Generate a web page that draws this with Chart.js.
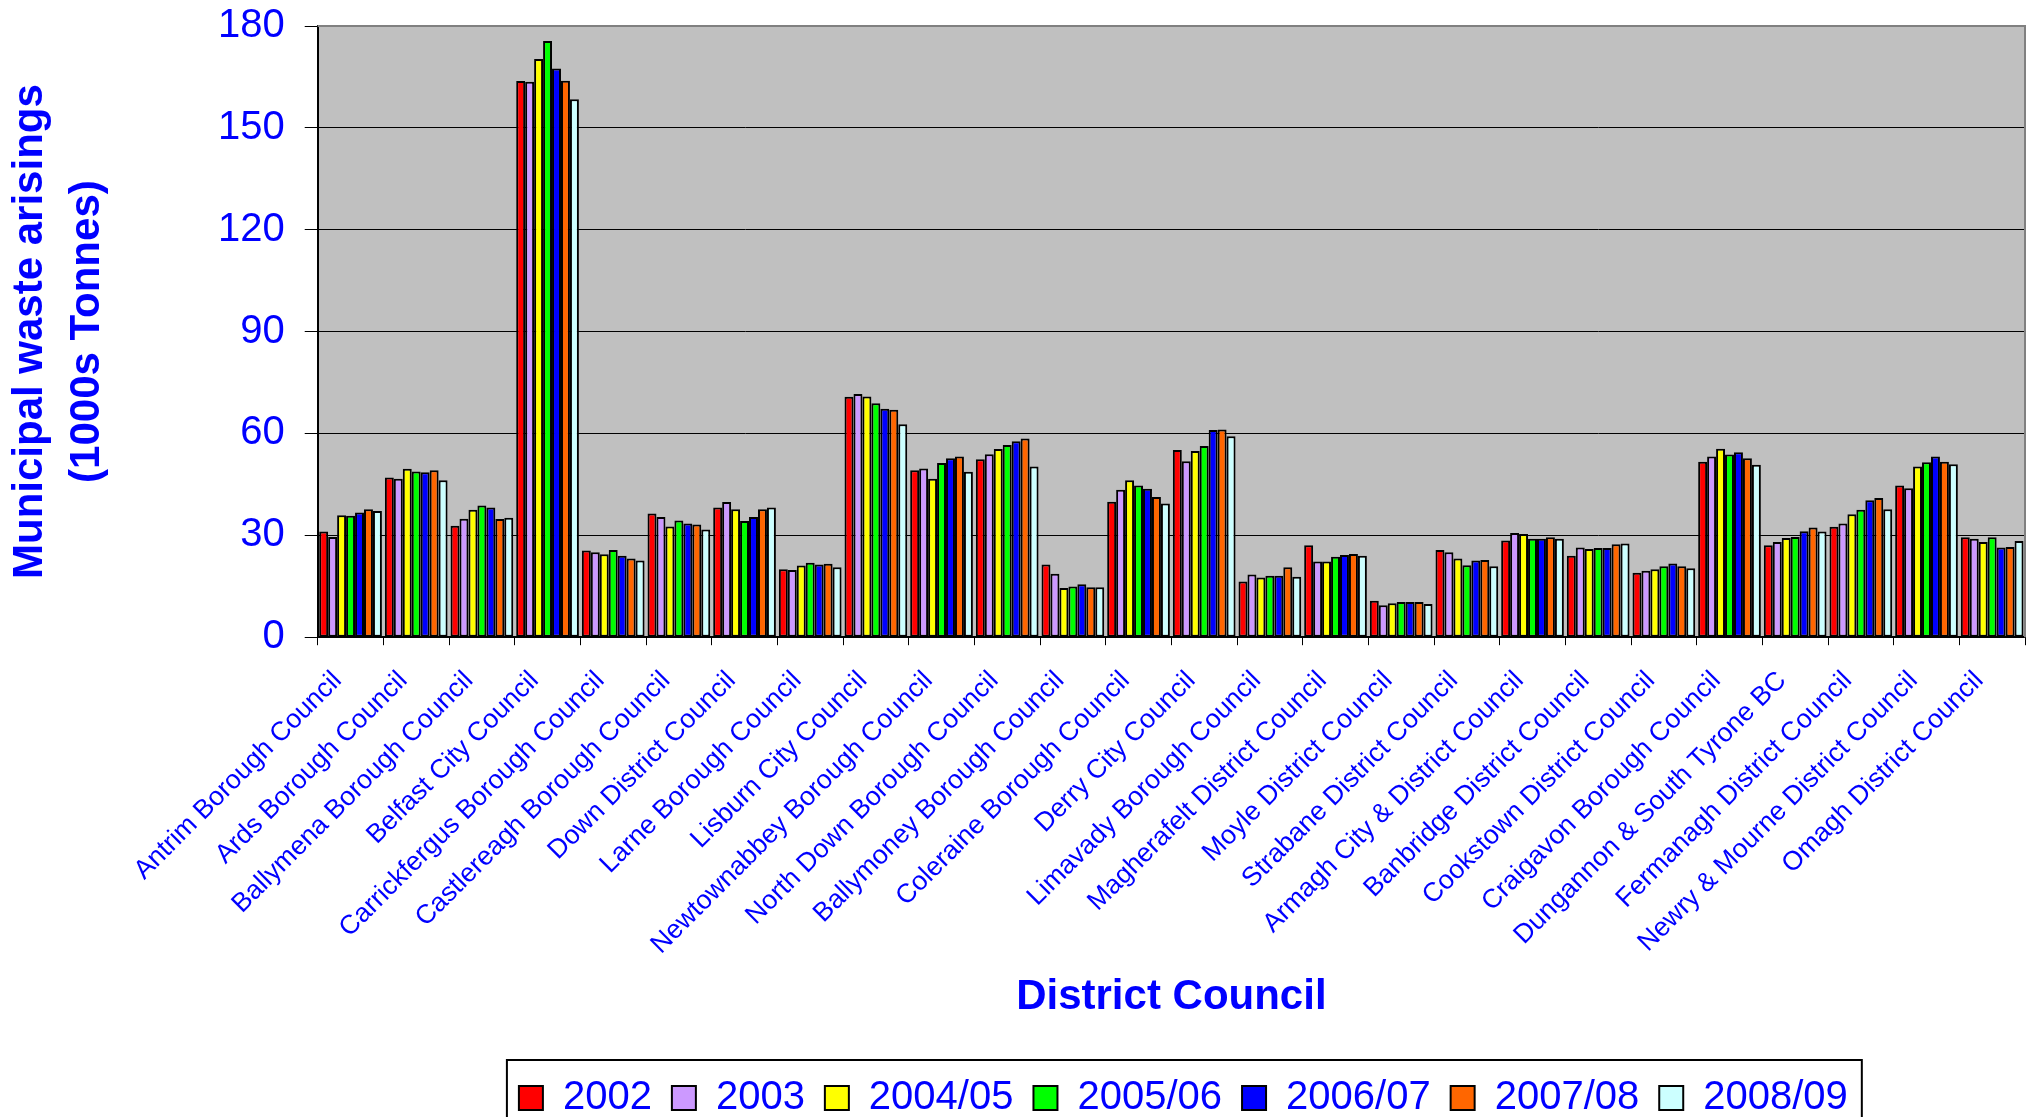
<!DOCTYPE html>
<html>
<head>
<meta charset="utf-8">
<title>Municipal waste arisings by District Council</title>
<script src="https://cdn.jsdelivr.net/npm/chart.js@4/dist/chart.umd.min.js"></script>
<style>
  html, body { margin: 0; padding: 0; background: #fff; overflow: hidden; }
  #wrap { width: 2038px; height: 1128px; }
</style>
</head>
<body>
<div id="wrap"><canvas id="wasteChart" width="2038" height="1128"></canvas></div>
<script>
// ---------- Data (1000s tonnes) ----------
const councils = [
  'Antrim Borough Council', 'Ards Borough Council', 'Ballymena Borough Council',
  'Belfast City Council', 'Carrickfergus Borough Council', 'Castlereagh Borough Council',
  'Down District Council', 'Larne Borough Council', 'Lisburn City Council',
  'Newtownabbey Borough Council', 'North Down Borough Council', 'Ballymoney Borough Council',
  'Coleraine Borough Council', 'Derry City Council', 'Limavady Borough Council',
  'Magherafelt District Council', 'Moyle District Council', 'Strabane District Council',
  'Armagh City & District Council', 'Banbridge District Council', 'Cookstown District Council',
  'Craigavon Borough Council', 'Dungannon & South Tyrone BC', 'Fermanagh District Council',
  'Newry & Mourne District Council', 'Omagh District Council'
];

const years = ['2002', '2003', '2004/05', '2005/06', '2006/07', '2007/08', '2008/09'];

const v2002 = [31.1, 47.0, 32.8, 163.8, 25.5, 36.4, 38.2, 20.0, 70.8, 49.2, 52.4, 21.4, 39.9,
               55.1, 16.4, 27.1, 10.7, 25.7, 28.5, 24.0, 19.0, 51.7, 27.1, 32.5, 44.7, 29.4];
const v2003 = [29.5, 46.7, 34.9, 163.6, 25.0, 35.4, 39.8, 19.8, 71.6, 49.7, 53.9, 18.7, 43.4,
               51.8, 18.5, 22.3, 9.4, 25.0, 30.7, 26.4, 19.6, 53.2, 28.0, 33.5, 43.9, 29.0];
const v2004 = [35.9, 49.6, 37.5, 170.3, 24.4, 32.6, 37.7, 21.1, 70.9, 46.7, 55.4, 14.5, 46.2,
               54.8, 17.6, 22.3, 10.0, 23.2, 30.4, 26.0, 20.0, 55.5, 29.2, 36.2, 50.3, 28.0];
const v2005 = [35.8, 48.8, 38.8, 175.6, 25.7, 34.4, 34.2, 21.9, 68.9, 51.3, 56.6, 14.9, 44.7,
               56.3, 18.1, 23.7, 10.4, 21.2, 29.0, 26.3, 20.9, 53.8, 29.5, 37.5, 51.5, 29.4];
const v2006 = [36.7, 48.6, 38.2, 167.5, 24.0, 33.5, 35.4, 21.4, 67.3, 52.7, 57.7, 15.6, 43.7,
               61.0, 18.1, 24.2, 10.4, 22.6, 29.0, 26.3, 21.7, 54.5, 31.2, 40.3, 53.2, 26.4];
const v2007 = [37.7, 49.2, 34.8, 163.9, 23.2, 33.2, 37.7, 21.6, 67.0, 53.2, 58.5, 14.7, 41.3,
               61.2, 20.6, 24.5, 10.4, 22.7, 29.4, 27.4, 20.9, 52.7, 32.3, 41.0, 51.7, 26.6];
const v2008 = [37.2, 46.2, 35.2, 158.4, 22.6, 31.7, 38.2, 20.6, 62.7, 48.7, 50.3, 14.7, 39.4,
               59.2, 17.8, 24.0, 9.8, 20.9, 29.0, 27.6, 20.3, 50.8, 31.1, 37.7, 50.9, 28.3];

const seriesValues = [v2002, v2003, v2004, v2005, v2006, v2007, v2008];
const seriesColors = ['#FF0000', '#CC99FF', '#FFFF00', '#00FF00', '#0000FF', '#FF6600', '#CCFFFF'];

// ---------- Styling helpers ----------
const BLUE = '#0000FF';
const FONT = "'Liberation Sans', Arial, sans-serif";
const LEGEND_SHIFT = 12; // legend sits a little right of the canvas centre

// grey plot area + grey top/right frame + box round the legend
const plotFrame = {
  id: 'plotFrame',
  afterUpdate(chart) {
    const lg = chart.legend;
    if (!lg) return;
    lg.left += LEGEND_SHIFT;
    lg.right += LEGEND_SHIFT;
    (lg.legendHitBoxes || []).forEach(hb => { hb.left += LEGEND_SHIFT; });
  },
  beforeDraw(chart) {
    const { ctx, chartArea: a } = chart;
    ctx.save();
    ctx.fillStyle = '#C0C0C0';
    ctx.fillRect(a.left, a.top, a.right - a.left, a.bottom - a.top);
    ctx.restore();
  },
  afterDraw(chart) {
    const { ctx, chartArea: a, legend } = chart;
    ctx.save();
    ctx.strokeStyle = '#808080';
    ctx.lineWidth = 2;
    ctx.beginPath();
    ctx.moveTo(a.left, a.top);
    ctx.lineTo(a.right, a.top);
    ctx.lineTo(a.right, a.bottom);
    ctx.stroke();

    // legend border (bottom runs off the page, as in the original)
    const boxes = legend.legendHitBoxes;
    if (boxes && boxes.length) {
      const l = Math.min(...boxes.map(b => b.left)) - 12;
      const r = Math.max(...boxes.map(b => b.left + b.width)) + 14;
      const t = boxes[0].top - 18;
      ctx.strokeStyle = '#000';
      ctx.lineWidth = 2;
      ctx.strokeRect(l, t, r - l, 200);
    }
    ctx.restore();
  }
};

const datasets = years.map((y, i) => ({
  label: y,
  data: seriesValues[i],
  backgroundColor: seriesColors[i],
  borderColor: '#000',
  borderWidth: 2,
  borderSkipped: false,
  categoryPercentage: 0.955,
  barPercentage: 1.0
}));

// ---------- Chart ----------
const ctx = document.getElementById('wasteChart').getContext('2d');
const chart = new Chart(ctx, {
  type: 'bar',
  data: { labels: councils, datasets },
  plugins: [plotFrame],
  options: {
    responsive: false,
    animation: false,
    layout: { padding: { top: 0, right: 13, left: 0, bottom: 0 } },
    plugins: {
      tooltip: { enabled: false },
      legend: {
        position: 'bottom',
        fullSize: false,
        labels: {
          color: BLUE,
          font: { family: FONT, size: 40 },
          boxWidth: 24,
          boxHeight: 24,
          padding: 20
        }
      }
    },
    scales: {
      x: {
        grid: {
          offset: true,
          drawOnChartArea: false,
          drawTicks: true,
          tickLength: 8,
          color: '#000'
        },
        border: { color: '#000', width: 2 },
        ticks: {
          color: BLUE,
          font: { family: FONT, size: 26.6 },
          autoSkip: false,
          maxRotation: 45,
          minRotation: 45,
          padding: 20,
          labelOffset: -13
        },
        // long labels may tuck into the title's padding
        afterFit(scale) { scale.height -= 13; },
        title: {
          display: true,
          text: 'District Council',
          color: BLUE,
          font: { family: FONT, size: 42, weight: 'bold' },
          padding: { top: 5, bottom: 35 }
        }
      },
      y: {
        min: 0,
        max: 180,
        ticks: {
          stepSize: 30,
          color: BLUE,
          font: { family: FONT, size: 40, lineHeight: 0.3 },
          padding: 20
        },
        grid: {
          color: '#000',
          lineWidth: 1,
          tickLength: 13
        },
        border: { color: '#000', width: 2 },
        title: {
          display: true,
          text: ['Municipal waste arisings', '(1000s Tonnes)'],
          color: BLUE,
          font: { family: FONT, size: 42, weight: 'bold', lineHeight: 1.357 },
          padding: { top: 2, bottom: 82 }
        }
      }
    }
  }
});
</script>
</body>
</html>
